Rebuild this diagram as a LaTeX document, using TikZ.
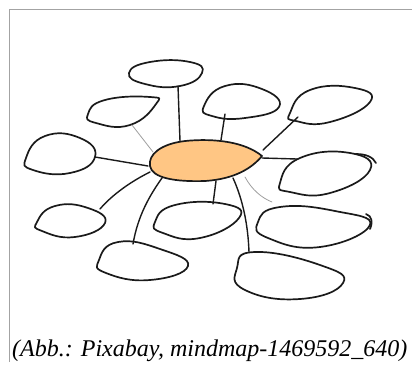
\documentclass[tikz,border=0pt]{standalone}
\usepackage{fontspec}
\setmainfont{Liberation Serif}
\definecolor{hubfill}{HTML}{FFC684}
\definecolor{ink}{HTML}{1A1A1A}
\definecolor{framegray}{HTML}{A3A3A3}
\tikzset{
  blob/.style={draw=ink, line width=1.7pt, line join=round, line cap=round},
  link/.style={draw=ink, line width=1.4pt, line cap=round},
  faint/.style={draw=gray!75, line width=0.8pt, line cap=round},
  framerule/.style={draw=framegray, line width=1.2pt},
  bubble/.style={blob, smooth cycle, tension=0.85},
}
\begin{document}
\begin{tikzpicture}[x=1pt, y=-1pt]
\useasboundingbox (0,0) rectangle (412,365);

% page frame (left and top rules only)
\draw[framerule] (9.5,362) -- (9.5,9.5) -- (412,9.5);

% central topic: a leaf shape with a pointed right end
\draw[blob, fill=hubfill] (262,156)
  .. controls (245,142) and (215,138) .. (185,141)
  .. controls (160,144) and (148,155) .. (150,166)
  .. controls (152,178) and (175,182) .. (205,181)
  .. controls (235,179) and (252,168) .. (262,156) -- cycle;

% surrounding empty bubbles
\draw[blob] plot[smooth cycle, tension=0.85] coordinates
  {(129,73) (150,62) (190,62) (202,73) (180,86) (145,84)};
\draw[blob] plot[smooth cycle, tension=0.85] coordinates
  {(88,114) (105,100) (150,97) (156,104) (130,125) (96,123)};
\draw[blob] plot[smooth cycle, tension=0.85] coordinates
  {(26,158) (45,136) (80,138) (95,157) (70,173) (33,170)};
\draw[blob] plot[smooth cycle, tension=0.85] coordinates
  {(204,106) (225,86) (262,89) (279,107) (245,118) (212,116)};
\draw[blob] plot[smooth cycle, tension=0.85] coordinates
  {(290,113) (310,90) (355,88) (370,102) (330,122) (296,121)};
\draw[blob] plot[smooth cycle, tension=0.85] coordinates
  {(280,183) (300,158) (350,153) (370,170) (330,193) (290,192)};
\draw[blob] (356,154) .. controls (366,154) and (373,157) .. (376,163);
\draw[blob] plot[smooth cycle, tension=0.85] coordinates
  {(258,222) (280,207) (335,211) (370,225) (320,247) (268,238)};
\draw[blob] (366,214) .. controls (372,216) and (373,222) .. (370,229);
\draw[blob] plot[smooth cycle, tension=0.85] coordinates
  {(237,268) (255,252) (320,265) (343,283) (300,299) (245,290)};
\draw[blob] plot[smooth cycle, tension=0.85] coordinates
  {(155,222) (175,205) (225,204) (239,218) (200,238) (163,233)};
\draw[blob] plot[smooth cycle, tension=0.85] coordinates
  {(99,260) (118,242) (160,249) (188,266) (150,280) (106,273)};
\draw[blob] plot[smooth cycle, tension=0.85] coordinates
  {(37,222) (55,206) (88,208) (105,223) (75,237) (42,231)};

% connector end points
\coordinate (topA) at (178,86);   \coordinate (topB) at (180,141);
\coordinate (ulA)  at (132,125);  \coordinate (ulB)  at (153,152);
\coordinate (lA)   at (95,157);   \coordinate (lB)   at (148,166);
\coordinate (tcA)  at (225,114);  \coordinate (tcB)  at (221,140);
\coordinate (urA)  at (298,117);  \coordinate (urB)  at (263,150);
\coordinate (rA)   at (262,158);  \coordinate (rB)   at (297,159);
\coordinate (lrA)  at (245,177);  \coordinate (lrB)  at (272,202);
\coordinate (brA)  at (233,178);  \coordinate (brB)  at (249,252);
\coordinate (bcA)  at (216,181);  \coordinate (bcB)  at (213,204);
\coordinate (blA)  at (162,178);  \coordinate (blB)  at (133,244);
\coordinate (lbA)  at (150,172);  \coordinate (lbB)  at (100,209);

% connectors
\draw[link] (topA) -- (topB);
\draw[faint] (ulA) -- (ulB);
\draw[link] (lA) -- (lB);
\draw[link] (tcA) -- (tcB);
\draw[link] (urA) -- (urB);
\draw[link] (rA) -- (rB);
\draw[faint] (lrA) .. controls (252,190) and (262,198) .. (lrB);
\draw[link] (brA) .. controls (243,200) and (248,225) .. (brB);
\draw[link] (bcA) -- (bcB);
\draw[link] (blA) .. controls (150,195) and (138,215) .. (blB);
\draw[link] (lbA) .. controls (130,182) and (112,195) .. (lbB);

% caption
\node[anchor=base west, inner sep=0pt, font=\itshape\fontsize{24}{28}\selectfont]
  (caption) at (12,356) {(Abb.: Pixabay, mindmap-1469592\_640)};
\end{tikzpicture}
\end{document}
